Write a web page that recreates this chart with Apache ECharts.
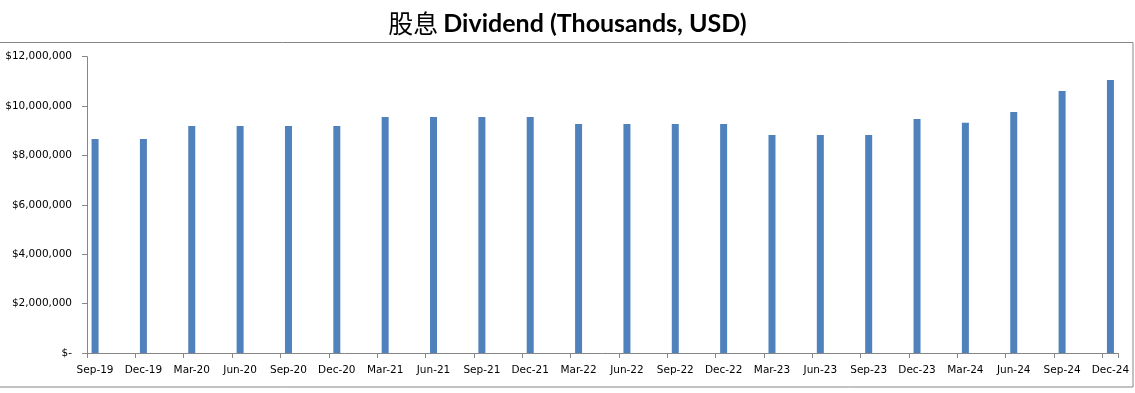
<!DOCTYPE html>
<html>
<head>
<meta charset="utf-8">
<script src="https://cdn.jsdelivr.net/npm/echarts@6/dist/echarts.min.js"></script>
<style>
html,body{margin:0;padding:0;background:#fff;}
#chart{width:1135px;height:393px;}
</style>
</head>
<body>
<div id="chart"></div>
<script>
const titleCn = '股息';
const titleEn = 'Dividend (Thousands, USD)';
const quarters = ['Sep-19','Dec-19','Mar-20','Jun-20','Sep-20','Dec-20','Mar-21','Jun-21','Sep-21','Dec-21','Mar-22','Jun-22','Sep-22','Dec-22','Mar-23','Jun-23','Sep-23','Dec-23','Mar-24','Jun-24','Sep-24','Dec-24'];
const dividends = [8670000,8670000,9190000,9190000,9190000,9190000,9560000,9560000,9560000,9560000,9270000,9270000,9270000,9270000,8830000,8830000,8830000,9480000,9320000,9760000,10610000,11060000];
const yTicks = [0,2000000,4000000,6000000,8000000,10000000,12000000];

// Date axis with monthly slots: each quarter label occupies one month slot, followed by two empty months
const slots = [];
const slotValues = [];
quarters.forEach((q, i) => {
  slots.push(q); slotValues.push(dividends[i]);
  if (i < quarters.length - 1) {
    slots.push(''); slotValues.push(null);
    slots.push(''); slotValues.push(null);
  }
});

const chart = echarts.init(document.getElementById('chart'));
const fmt = v => v === 0 ? '$-' : '$' + v.toLocaleString('en-US');
chart.setOption({
  animation: false,
  title: {
    text: '{cn|' + titleCn + '} {en|' + titleEn + '}',
    left: 'center',
    top: 6,
    textStyle: {
      rich: {
        cn: {fontFamily: '"Noto Sans CJK SC"', fontWeight: 'normal', fontSize: 25, color: '#000'},
        en: {fontFamily: 'Lato', fontWeight: 'bold', fontSize: 25, color: '#000'}
      }
    }
  },
  grid: {left: 87, right: 16.5, top: 56.7, bottom: 40, containLabel: false},
  xAxis: {
    type: 'category',
    data: slots,
    boundaryGap: true,
    axisLine: {lineStyle: {color: '#868686', width: 1}},
    axisTick: {show: true, length: 5, lineStyle: {color: '#868686'}, interval: (i) => i % 3 === 0},
    axisLabel: {interval: 0, color: '#000', fontFamily: '"DejaVu Sans"', fontSize: 10.5, margin: 12},
    splitLine: {show: false}
  },
  yAxis: {
    type: 'value',
    min: yTicks[0],
    max: yTicks[yTicks.length - 1],
    interval: yTicks[1] - yTicks[0],
    axisLine: {show: true, lineStyle: {color: '#868686', width: 1}},
    axisTick: {show: true, length: 5, lineStyle: {color: '#868686'}},
    axisLabel: {formatter: fmt, color: '#000', fontFamily: '"DejaVu Sans"', fontSize: 10.5, margin: 15},
    splitLine: {show: false}
  },
  series: [{
    type: 'bar',
    data: slotValues,
    barWidth: 7,
    itemStyle: {color: '#4F81BD'}
  }],
  graphic: [{
    type: 'rect',
    shape: {x: -2, y: 42.5, width: 1135, height: 344.5},
    style: {fill: 'none', stroke: '#868686', lineWidth: 1},
    silent: true
  }]
});
</script>
</body>
</html>
